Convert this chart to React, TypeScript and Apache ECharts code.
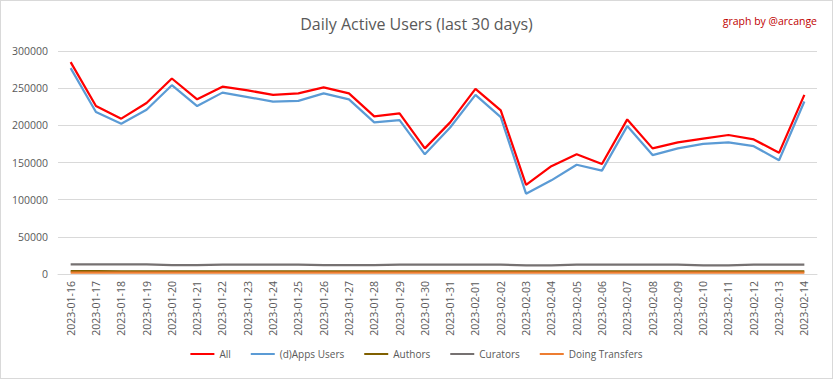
import React, { useEffect, useRef } from "react";
import * as echarts from "echarts";

const categories = [
  "2023-01-16","2023-01-17","2023-01-18","2023-01-19","2023-01-20","2023-01-21","2023-01-22","2023-01-23","2023-01-24","2023-01-25",
  "2023-01-26","2023-01-27","2023-01-28","2023-01-29","2023-01-30","2023-01-31","2023-02-01","2023-02-02","2023-02-03","2023-02-04",
  "2023-02-05","2023-02-06","2023-02-07","2023-02-08","2023-02-09","2023-02-10","2023-02-11","2023-02-12","2023-02-13","2023-02-14",
];

const allUsers = [
  285000, 226000, 209000, 230000, 263000, 235000, 252000, 247000, 241000, 243000,
  251000, 243000, 212000, 216000, 169000, 204000, 249000, 220000, 120000, 145000,
  161000, 148000, 208000, 169000, 177000, 182000, 187000, 181000, 163000, 241000,
];
const appsUsers = [
  277000, 218000, 202000, 221000, 254000, 226000, 244000, 238000, 232000, 233000,
  243000, 235000, 204000, 207000, 161000, 197000, 241000, 211000, 108000, 126000,
  147000, 139000, 199000, 160000, 169000, 175000, 177000, 172000, 153000, 232000,
];
const authors = [
  3700, 3700, 3600, 3600, 3600, 3500, 3600, 3600, 3600, 3600,
  3600, 3500, 3500, 3500, 3500, 3600, 3600, 3600, 3500, 3500,
  3600, 3600, 3600, 3600, 3600, 3500, 3500, 3600, 3600, 3600,
];
const curators = [
  12800, 12800, 12800, 12800, 11800, 11800, 12700, 12700, 12700, 12700,
  11800, 11800, 11800, 12600, 12600, 12600, 12600, 12600, 11600, 11600,
  12600, 12600, 12600, 12600, 12600, 11700, 11700, 12600, 12600, 12600,
];
const transfers = [
  1800, 1800, 1800, 1800, 1800, 1700, 1800, 1800, 1800, 1800,
  1800, 1700, 1700, 1700, 1700, 1800, 1800, 1800, 1700, 1700,
  1800, 1800, 1800, 1800, 1800, 1700, 1700, 1800, 1800, 1800,
];

const FONT = "'Open Sans', 'Liberation Sans', sans-serif";

export default function App() {
  const ref = useRef<HTMLDivElement>(null);
  useEffect(() => {
    if (!ref.current) return;
    const chart = echarts.init(ref.current, undefined, { renderer: "svg" });
    const mk = (name: string, data: number[], color: string, width: number) => ({
      name,
      type: "line",
      data,
      symbol: "none",
      lineStyle: { color, width },
      itemStyle: { color },
    });
    chart.setOption({
      animation: false,
      backgroundColor: "#ffffff",
      title: [
        {
          text: "Daily Active Users (last 30 days)",
          left: "center",
          top: 10,
          textStyle: { fontFamily: FONT, fontSize: 16, fontWeight: "normal", color: "#595959" },
        },
        {
          text: "graph by @arcange",
          right: 10,
          top: 9,
          textStyle: { fontFamily: FONT, fontSize: 10.5, fontWeight: "normal", color: "#c00000" },
        },
      ],
      legend: {
        bottom: 14,
        left: "center",
        itemWidth: 24,
        itemHeight: 2,
        itemGap: 20,
        icon: "rect",
        textStyle: { fontFamily: FONT, fontSize: 10, color: "#595959" },
        data: ["All", "(d)Apps Users", "Authors", "Curators", "Doing Transfers"],
      },
      grid: { left: 57, right: 15, top: 50, bottom: 104, containLabel: false },
      xAxis: {
        type: "category",
        data: categories,
        boundaryGap: true,
        axisLine: { lineStyle: { color: "#d9d9d9" } },
        axisTick: { show: false },
        axisLabel: {
          rotate: 90,
          interval: 0,
          fontFamily: FONT,
          fontSize: 10.5,
          color: "#595959",
          margin: 7,
        },
      },
      yAxis: {
        type: "value",
        min: 0,
        max: 300000,
        interval: 50000,
        axisLine: { show: false },
        axisTick: { show: false },
        splitLine: { lineStyle: { color: "#d9d9d9" } },
        axisLabel: {
          fontFamily: FONT,
          fontSize: 10.5,
          color: "#595959",
          margin: 10,
          formatter: (v: number) => String(v),
        },
      },
      series: [
        mk("All", allUsers, "#ff0000", 2.25),
        mk("(d)Apps Users", appsUsers, "#5b9bd5", 2.25),
        mk("Authors", authors, "#806000", 2.25),
        mk("Curators", curators, "#767171", 2.25),
        mk("Doing Transfers", transfers, "#ed7d31", 2.25),
      ],
    });
    return () => chart.dispose();
  }, []);
  return (
    <div
      ref={ref}
      style={{
        position: "fixed",
        left: 0,
        top: 0,
        width: 833,
        height: 379,
        boxSizing: "border-box",
        border: "1px solid #d9d9d9",
        background: "#fff",
      }}
    />
  );
}
